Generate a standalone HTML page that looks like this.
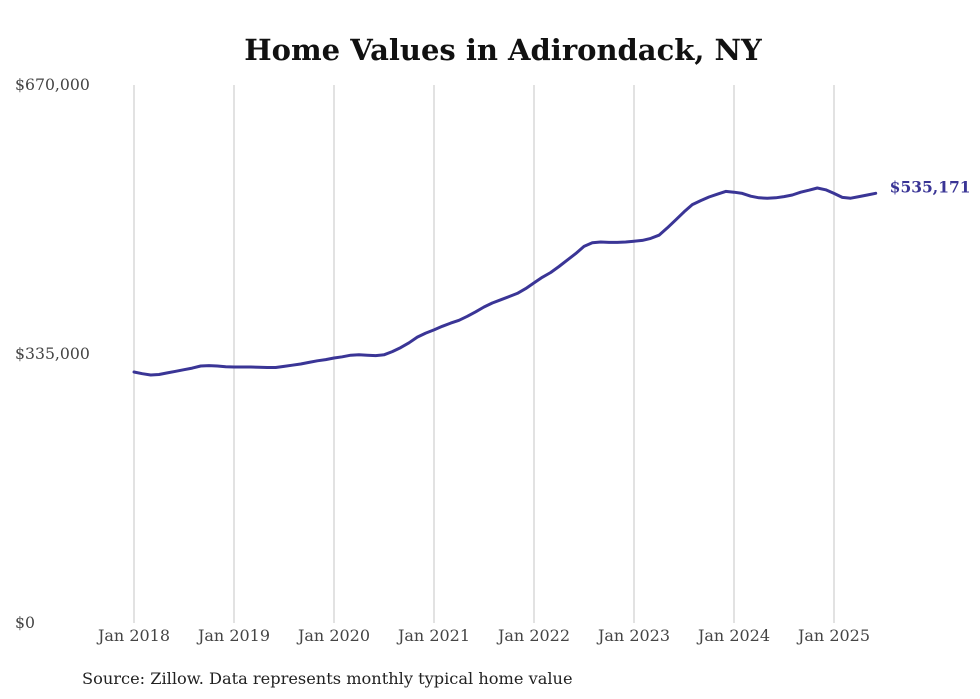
<!DOCTYPE html>
<html><head><meta charset="utf-8"><style>
body{margin:0;background:#fff;}
svg{display:block;font-family:"DejaVu Serif","Liberation Serif",serif;}
</style></head><body>
<svg id="chart" width="980" height="699">
<rect width="980" height="699" fill="#fff"/>
<text x="503" y="60" text-anchor="middle" font-size="29" font-weight="bold" fill="#111">Home Values in Adirondack, NY</text>
<g id="grid"></g><g id="yaxis"></g><g id="xaxis"></g><g id="series"></g>
<text x="82" y="684" font-size="16.2" fill="#222">Source: Zillow. Data represents monthly typical home value</text>
</svg>
<script>
const yTicks=[0,335000,670000];
const yTickLabels=["$0","$335,000","$670,000"];
const xYears=[2018,2019,2020,2021,2022,2023,2024,2025];
const xTickLabels=["Jan 2018","Jan 2019","Jan 2020","Jan 2021","Jan 2022","Jan 2023","Jan 2024","Jan 2025"];
// monthly values Jan 2018 - Jun 2025 (90 months)
const values=[
312600,310500,308900,309500,311500,313500,315500,317500,320000,320500,320000,319200,
318800,318800,318800,318500,318200,318200,319500,321000,322500,324500,326500,328000,
330000,331500,333500,334000,333500,333000,334000,338000,343000,349000,356000,361000,
365000,369500,373500,377000,382000,387500,393500,398500,402500,406500,410500,416500,
423500,430500,436500,444000,452000,460000,469000,473500,474500,474000,474000,474500,
475500,476500,479000,483000,492000,502000,512000,521000,526000,530500,534000,537500,
536500,535000,531500,529500,529000,529500,531000,533000,536500,539000,541700,539500,
535000,530000,529000,531000,533000,535171
];
const lastLabel="$535,171";
const NS="http://www.w3.org/2000/svg";
const X0=134,PERYEAR=100,Y0=623,YTOP=85,YMAX=670000;
function xScale(monthIdx){return X0+monthIdx*PERYEAR/12;}
function yScale(v){return Y0-(v/YMAX)*(Y0-YTOP);}
function mk(tag,attrs,parent){const e=document.createElementNS(NS,tag);for(const k in attrs)e.setAttribute(k,attrs[k]);parent.appendChild(e);return e;}
const grid=document.getElementById('grid'),xa=document.getElementById('xaxis'),ya=document.getElementById('yaxis'),ser=document.getElementById('series');
xYears.forEach((yr,i)=>{
  const x=xScale((yr-2018)*12);
  const l=mk('line',{x1:x,x2:x,y1:YTOP,y2:Y0,stroke:'#c4c4c4','stroke-width':1},grid);
  
  
  const t=mk('text',{x:x,y:Y0+18,'text-anchor':'middle','font-size':16,fill:'#444'},xa);
  t.textContent=xTickLabels[i];
  
  
});
yTicks.forEach((v,i)=>{
  const t=mk('text',{x:15,y:yScale(v)+5,'font-size':15.7,fill:'#444'},ya);
  t.textContent=yTickLabels[i];
  
  
});
let d=values.map((v,i)=>(i?'L':'M')+xScale(i).toFixed(1)+','+yScale(v).toFixed(1)).join(' ');
const p=mk('path',{d:d,fill:'none',stroke:'#3a3596','stroke-width':3,'stroke-linejoin':'round','stroke-linecap':'round'},ser);


const li=values.length-1;
const lt=mk('text',{x:xScale(li)+14,y:yScale(values[li])-1,'font-size':15.5,'font-weight':'bold',fill:'#3a3596'},ser);
lt.textContent=lastLabel;


</script>
</body></html>
